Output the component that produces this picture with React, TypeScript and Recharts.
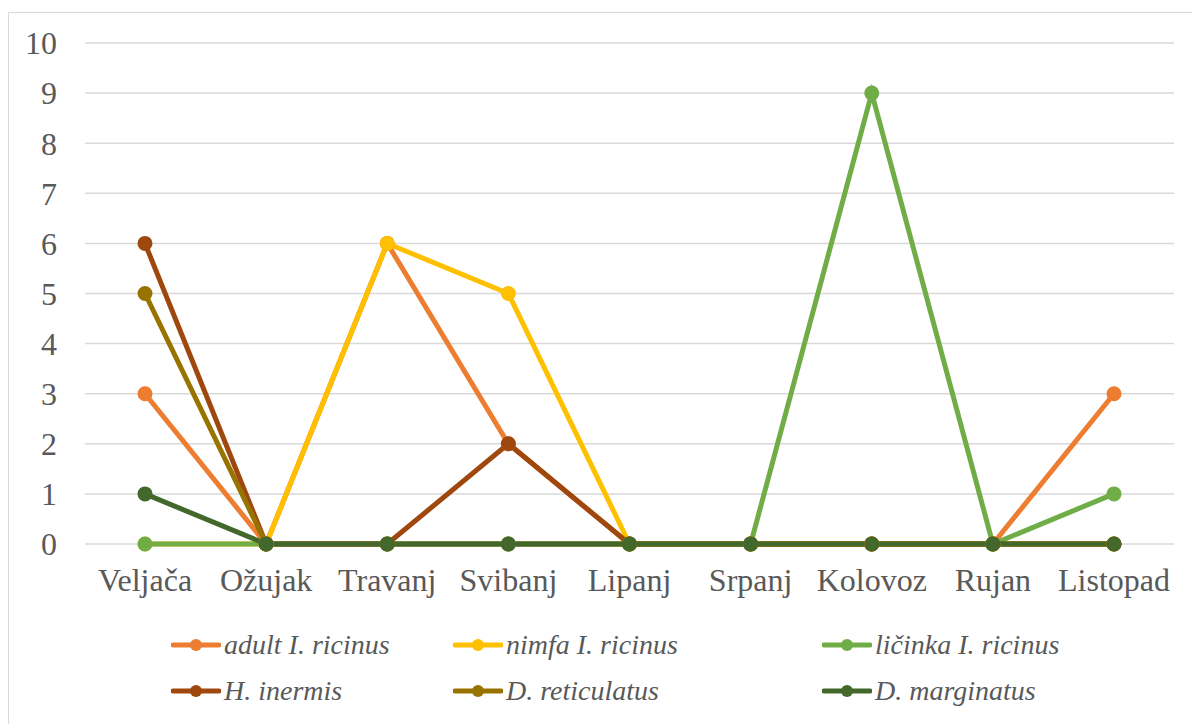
import { LineChart, Line, XAxis, YAxis, CartesianGrid, Legend } from 'recharts';

const months = ['Veljača', 'Ožujak', 'Travanj', 'Svibanj', 'Lipanj', 'Srpanj', 'Kolovoz', 'Rujan', 'Listopad'];

const adultRicinus = [3, 0, 6, 2, 0, 0, 0, 0, 3];
const nimfaRicinus = [0, 0, 6, 5, 0, 0, 0, 0, 0];
const licinkaRicinus = [0, 0, 0, 0, 0, 0, 9, 0, 1];
const hInermis = [6, 0, 0, 2, 0, 0, 0, 0, 0];
const dReticulatus = [5, 0, 0, 0, 0, 0, 0, 0, 0];
const dMarginatus = [1, 0, 0, 0, 0, 0, 0, 0, 0];

const yTicks = [0, 1, 2, 3, 4, 5, 6, 7, 8, 9, 10];

const series = [
  { key: 'adult', name: 'adult I. ricinus', color: '#ED7D31', values: adultRicinus },
  { key: 'nimfa', name: 'nimfa I. ricinus', color: '#FFC000', values: nimfaRicinus },
  { key: 'licinka', name: 'ličinka I. ricinus', color: '#70AD47', values: licinkaRicinus },
  { key: 'inermis', name: 'H. inermis', color: '#9E480E', values: hInermis },
  { key: 'reticulatus', name: 'D. reticulatus', color: '#997300', values: dReticulatus },
  { key: 'marginatus', name: 'D. marginatus', color: '#43682B', values: dMarginatus },
];

const data = months.map((month, i) => {
  const row: Record<string, string | number> = { month };
  series.forEach(s => { row[s.key] = s.values[i]; });
  return row;
});

const FONT = "'Liberation Serif', 'Times New Roman', serif";
const TEXT = '#595959';

// legend slots: 3 columns, 2 rows (Excel-style)
const legendCols = [171, 453, 822];
const legendRows = [630, 676];

function renderLegend() {
  return (
    <div style={{ position: 'relative', width: 1192, height: 100 }}>
      {series.map((s, i) => (
        <div
          key={s.key}
          style={{
            position: 'absolute',
            left: legendCols[i % 3],
            top: legendRows[Math.floor(i / 3)] - 620,
            height: 30,
            display: 'flex',
            alignItems: 'center',
            whiteSpace: 'nowrap',
          }}
        >
          <svg width={50} height={16} style={{ marginRight: 3 }}>
            <line x1={2} y1={8} x2={48} y2={8} stroke={s.color} strokeWidth={5} strokeLinecap="round" />
            <circle cx={25} cy={8} r={6} fill={s.color} />
          </svg>
          <span style={{ fontFamily: FONT, fontStyle: 'italic', fontSize: 28, color: TEXT }}>{s.name}</span>
        </div>
      ))}
    </div>
  );
}

export default function App() {
  return (
    <div style={{ position: 'absolute', left: 0, top: 0, width: 1192, height: 724, overflow: 'hidden', background: '#fff' }}>
      <div
        style={{
          position: 'absolute',
          left: 8,
          top: 12,
          width: 1200,
          height: 730,
          border: '1px solid #d9d9d9',
          boxSizing: 'border-box',
        }}
      />
      <div style={{ position: 'absolute', left: 0, top: 0 }}>
        <LineChart width={1192} height={724} data={data} margin={{ top: 43, right: 18, left: 0, bottom: 140 }}>
          <CartesianGrid vertical={false} stroke="#d9d9d9" strokeWidth={1.5} />
          <XAxis
            dataKey="month"
            axisLine={false}
            tickLine={false}
            tickSize={0}
            tickMargin={24}
            height={40}
            interval={0}
            padding={{ left: 60, right: 60 }}
            tick={{ fontFamily: FONT, fontSize: 32, fill: TEXT }}
          />
          <YAxis
            domain={[0, 10]}
            ticks={yTicks}
            width={85}
            axisLine={false}
            tickLine={false}
            tickSize={0}
            tickMargin={28}
            tick={{ fontFamily: FONT, fontSize: 32, fill: TEXT }}
          />
          <Legend
            layout="horizontal"
            verticalAlign="middle"
            align="center"
            wrapperStyle={{ left: 0, top: 620, width: 1192, height: 100 }}
            content={renderLegend}
          />
          {series.map(s => (
            <Line
              key={s.key}
              dataKey={s.key}
              name={s.name}
              type="linear"
              stroke={s.color}
              strokeWidth={5}
              dot={{ r: 6.5, fill: s.color, stroke: s.color, strokeWidth: 2 }}
              activeDot={false}
              isAnimationActive={false}
            />
          ))}
        </LineChart>
      </div>
    </div>
  );
}
